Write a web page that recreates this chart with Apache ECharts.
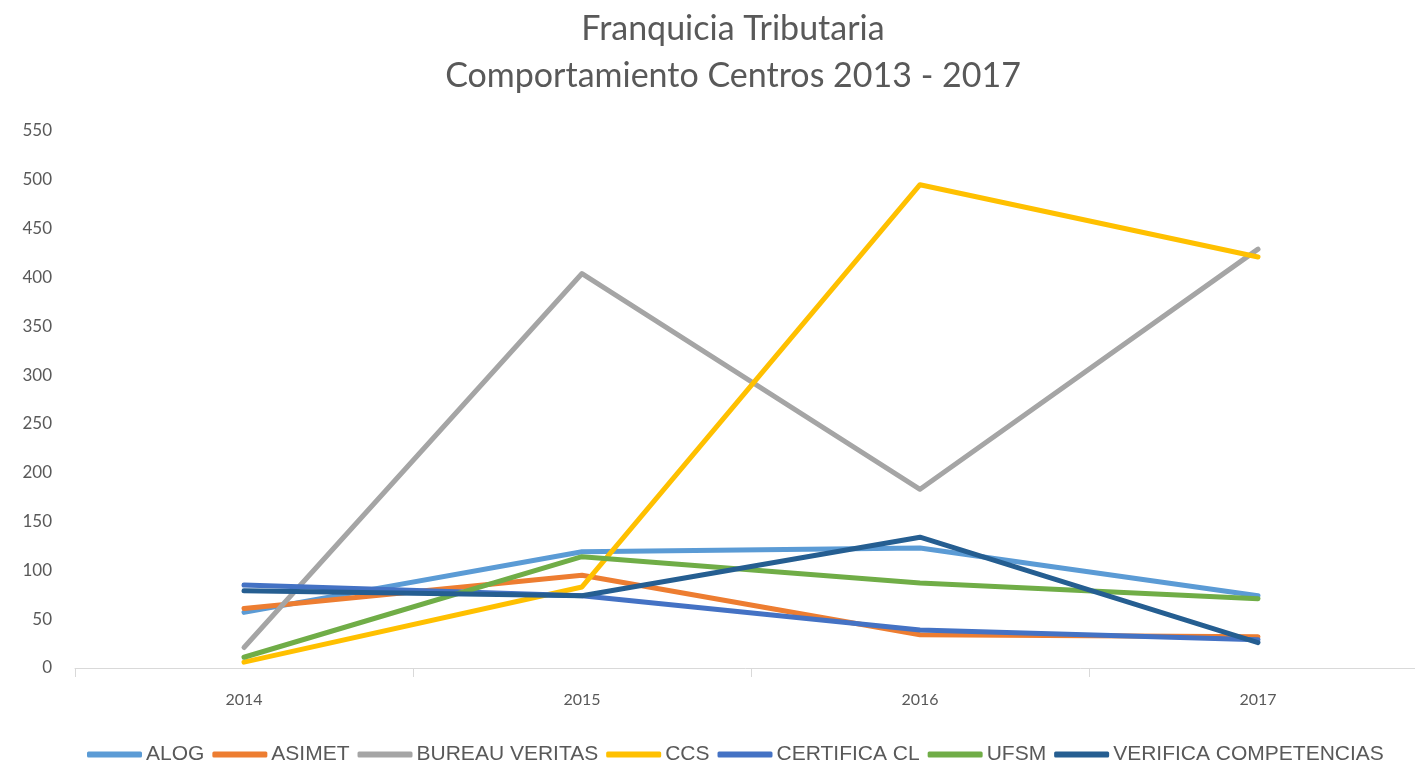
<!DOCTYPE html>
<html>
<head>
<meta charset="utf-8">
<script src="https://cdn.jsdelivr.net/npm/echarts@6/dist/echarts.min.js"></script>
<style>
  html, body { margin: 0; padding: 0; background: #fff; }
  #chart { width: 1415px; height: 760px; }
</style>
</head>
<body>
<div id="chart"></div>
<script>
// datos
const years = ["2014", "2015", "2016", "2017"];
const alog = [57, 119, 123, 74];
const asimet = [61, 95, 34, 32];
const bureauVeritas = [21, 404, 183, 429];
const ccs = [6, 83, 495, 421];
const certificaCl = [85, 74, 39, 29];
const ufsm = [11, 114, 87, 71];
const verificaCompetencias = [79, 74, 134, 26];

const seriesDefs = [
  { name: "ALOG", data: alog, color: "#5B9BD5" },
  { name: "ASIMET", data: asimet, color: "#ED7D31" },
  { name: "BUREAU VERITAS", data: bureauVeritas, color: "#A5A5A5" },
  { name: "CCS", data: ccs, color: "#FFC000" },
  { name: "CERTIFICA CL", data: certificaCl, color: "#4472C4" },
  { name: "UFSM", data: ufsm, color: "#70AD47" },
  { name: "VERIFICA COMPETENCIAS", data: verificaCompetencias, color: "#255E91" },
];

const chart = echarts.init(document.getElementById("chart"));
chart.setOption({
  backgroundColor: "#fff",
  animation: false,
  title: {
    text: "Franquicia Tributaria\nComportamiento Centros 2013 - 2017",
    left: 728,
    top: 1,
    textAlign: "center",
    textStyle: {
      fontFamily: "Lato, 'Open Sans', sans-serif",
      fontSize: 34,
      fontWeight: "normal",
      color: "#595959",
      lineHeight: 47,
    },
  },
  legend: {
    top: 739,
    left: 82,
    icon: "roundRect",
    itemWidth: 55,
    itemHeight: 6,
    itemGap: 8,
    textStyle: {
      fontFamily: "'Liberation Sans', Arial, sans-serif",
      fontSize: 21,
      color: "#595959",
      padding: [0, 0, 0, -1],
    },
    data: seriesDefs.map((s) => s.name),
  },
  grid: {
    left: 75,
    top: 131,
    width: 1352,
    height: 537,
    containLabel: false,
    outerBoundsMode: "none",
  },
  xAxis: {
    type: "category",
    data: years,
    boundaryGap: true,
    axisLine: { lineStyle: { color: "#D9D9D9", width: 1 } },
    axisTick: { show: true, length: 9, lineStyle: { color: "#D9D9D9" } },
    axisLabel: {
      margin: 24,
      fontFamily: "Lato, 'Open Sans', sans-serif",
      fontSize: 16,
      color: "#595959",
    },
  },
  yAxis: {
    type: "value",
    min: 0,
    max: 550,
    interval: 50,
    splitLine: { show: false },
    axisLine: { show: false },
    axisTick: { show: false },
    axisLabel: {
      margin: 23,
      fontFamily: "Lato, 'Open Sans', sans-serif",
      fontSize: 17,
      color: "#595959",
    },
  },
  series: seriesDefs.map((s) => ({
    name: s.name,
    type: "line",
    data: s.data,
    showSymbol: false,
    symbol: "none",
    color: s.color,
    lineStyle: { width: 5, color: s.color, cap: "round", join: "round" },
    itemStyle: { color: s.color },
  })),
});
</script>
</body>
</html>
